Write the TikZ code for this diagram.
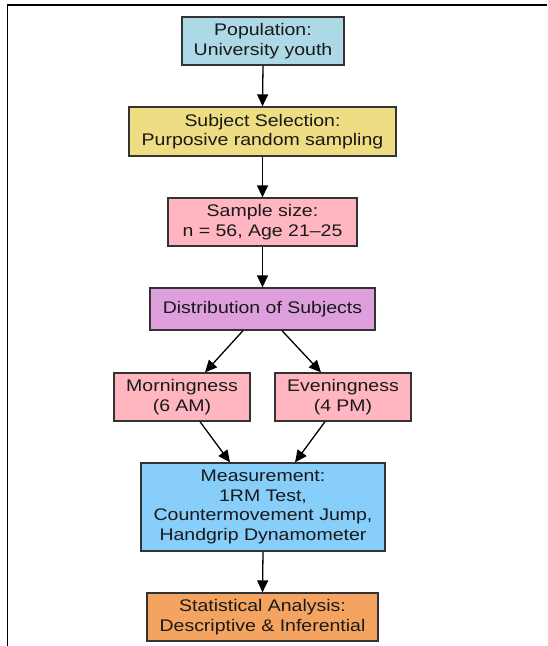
\documentclass[tikz,border=0pt]{standalone}
\usepackage{fontspec}
\setmainfont{Liberation Sans}[FakeStretch=1.16]
\usetikzlibrary{arrows.meta,calc}
\definecolor{cPop}{HTML}{ADD8E6}
\definecolor{cSel}{HTML}{EEDD82}
\definecolor{cPink}{HTML}{FFB6C1}
\definecolor{cPlum}{HTML}{DDA0DD}
\definecolor{cSky}{HTML}{87CEFA}
\definecolor{cSand}{HTML}{F4A460}
\definecolor{cEdge}{HTML}{333333}
\tikzset{
  box/.style={draw=cEdge, line width=1.3pt, align=center, inner sep=0pt,
    font=\fontsize{16.8}{19.6}\selectfont, text=black!90},
  arr/.style={draw=black, line width=1.3pt, -{Triangle[length=12pt,width=11pt]}},
  frameline/.style={draw=black, line width=1.8pt}
}
\begin{document}
\begin{tikzpicture}[x=1pt,y=-1pt]
\useasboundingbox (0,0) rectangle (547,646);
\draw[frameline] (547,5) -- (7.5,5) -- (7.5,646);
\node[box, fill=cPop, minimum width=162pt, minimum height=48pt] (pop) at (263,41) {Population:\\University youth};
\node[box, fill=cSel, minimum width=267pt, minimum height=49pt] (sel) at (262.5,131.5) {Subject Selection:\\Purposive random sampling};
\node[box, fill=cPink, minimum width=189pt, minimum height=48pt] (samp) at (262.5,222) {Sample size:\\n = 56, Age 21–25};
\node[box, fill=cPlum, minimum width=225pt, minimum height=42pt] (dist) at (262.5,309) {Distribution of Subjects};
\node[box, fill=cPink, minimum width=136pt, minimum height=48pt] (morn) at (182,397) {Morningness\\(6 AM)};
\node[box, fill=cPink, minimum width=136pt, minimum height=48pt] (even) at (343,397) {Eveningness\\(4 PM)};
\node[box, fill=cSky, minimum width=244pt, minimum height=88pt] (meas) at (263,507) {Measurement:\\1RM Test,\\Countermovement Jump,\\Handgrip Dynamometer};
\node[box, fill=cSand, minimum width=231pt, minimum height=48pt] (stat) at (262.5,617) {Statistical Analysis:\\Descriptive \& Inferential};
\draw[arr] (pop.south) -- (sel.north);
\draw[arr] (sel.south) -- (samp.north);
\draw[arr] (samp.south) -- (dist.north);
\draw[arr] ($(dist.south)+(-19.5,0)$) -- ($(morn.north)+(23,0)$);
\draw[arr] ($(dist.south)+(19.5,0)$) -- ($(even.north)+(-22,0)$);
\draw[arr] ($(morn.south)+(18,0)$) -- ($(meas.north)+(-33,0)$);
\draw[arr] ($(even.south)+(-18,0)$) -- ($(meas.north)+(32,0)$);
\draw[arr] (meas.south) -- (stat.north);
\end{tikzpicture}
\end{document}
